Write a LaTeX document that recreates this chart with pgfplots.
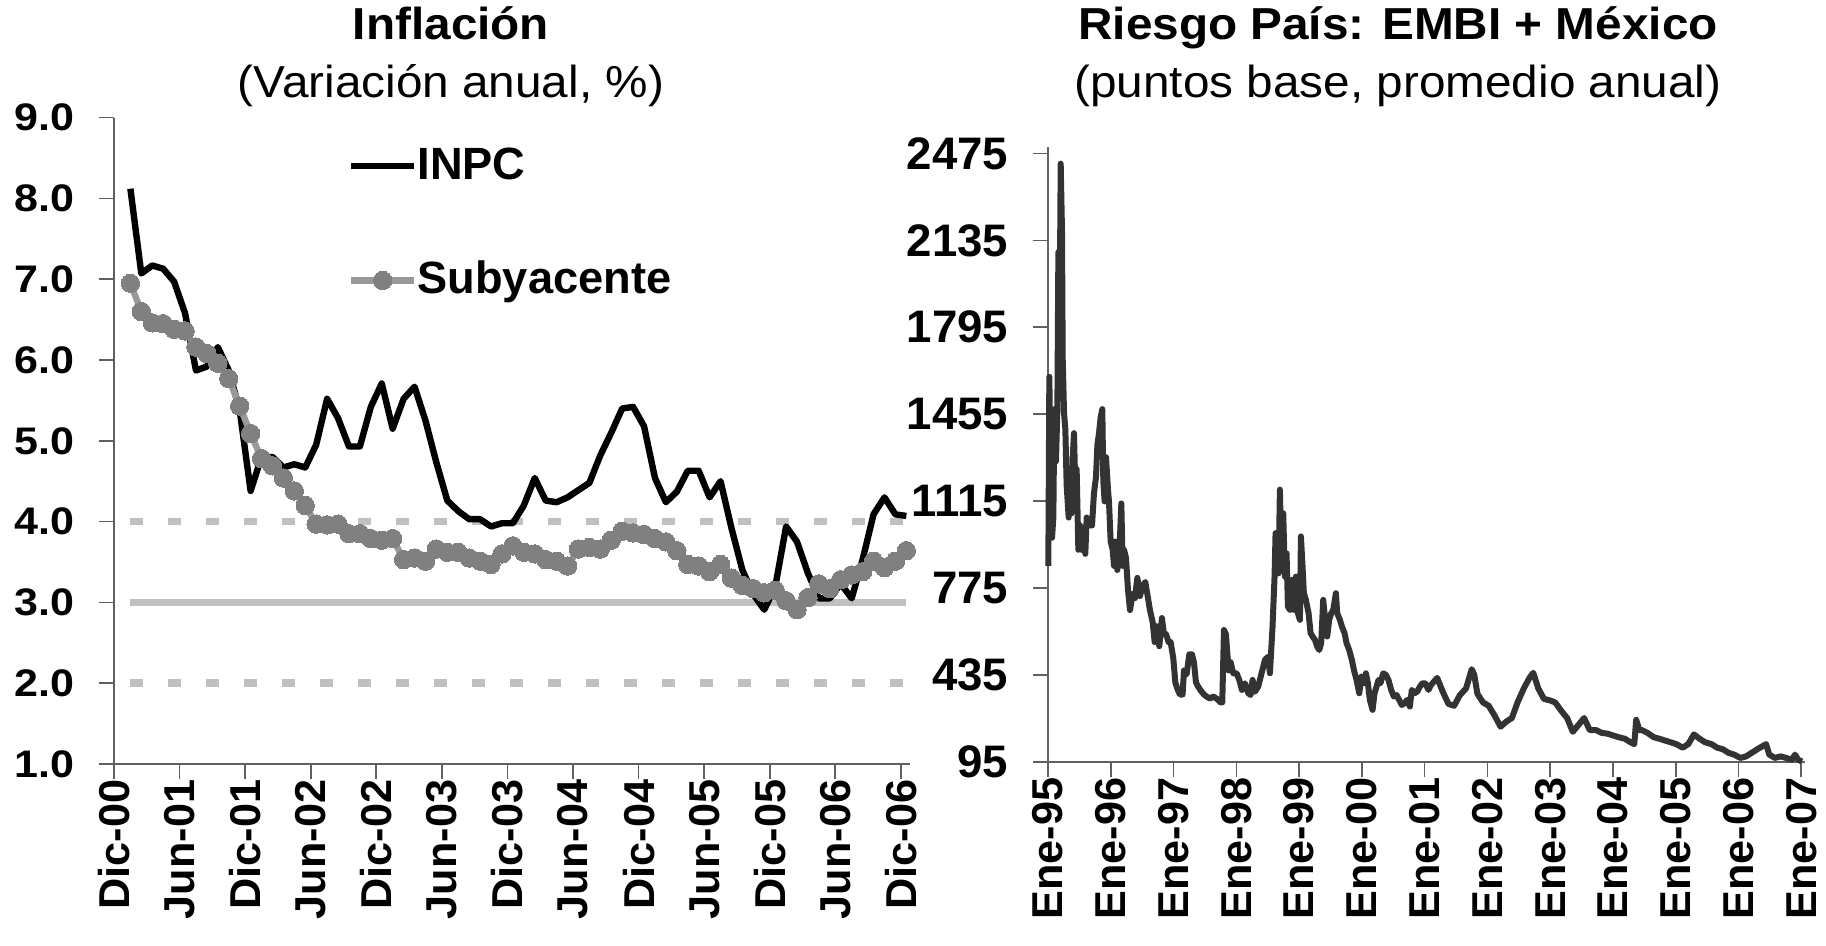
\documentclass[border=0pt]{standalone}
\usepackage{fontspec}
\setmainfont{Liberation Sans}
\newfontfamily\widesans{Liberation Sans}[FakeStretch=1.065]
\newfontfamily\widersans{Liberation Sans}[FakeStretch=1.12]
\usepackage{pgfplots}
\pgfplotsset{compat=1.18}

\definecolor{axisgray}{HTML}{606060}
\definecolor{refgray}{HTML}{C0C0C0}
\definecolor{coregray}{HTML}{999999}
\definecolor{markgray}{HTML}{808080}
\definecolor{embigray}{HTML}{333333}

\pgfplotsset{
  panel/.style={
    scale only axis, clip=false,
    axis x line*=bottom, axis y line*=left,
    axis line style={-, draw=axisgray, line width=0.4pt},
    tick align=outside, major tick length=3.75pt,
    tick style={draw=axisgray, line width=0.4pt},
    xticklabel style={rotate=90, anchor=east, inner sep=0pt,
      font=\fontsize{10.8}{11}\selectfont\bfseries},
  },
}

\begin{document}
\begin{tikzpicture}
\path[use as bounding box] (0,0) rectangle (456.5pt,236.25pt);

% titulos
\node[anchor=base, font=\fontsize{11.2}{12}\widesans\bfseries] at (112.75pt,226.25pt) {Inflación};
\node[anchor=base, font=\fontsize{11.2}{12}\widesans] at (112.75pt,211.75pt) {(Variación anual, \%)};
\node[anchor=base, font=\fontsize{11.2}{12}\widesans\bfseries] at (349.5pt,226.25pt) {Riesgo País: EMBI + México};
\node[anchor=base, font=\fontsize{11.2}{12}\widesans] at (349.5pt,211.75pt) {(puntos base, promedio anual)};

% panel izquierdo: inflacion
\begin{axis}[panel,
  width=198.9pt, height=161.6pt, at={(28.5pt,45.25pt)}, anchor=south west,
  xmin=0, xmax=72.8, ymin=1, ymax=9,
  xtick={0,6,...,72},
  xticklabels={Dic-00,Jun-01,Dic-01,Jun-02,Dic-02,Jun-03,Dic-03,Jun-04,Dic-04,Jun-05,Dic-05,Jun-06,Dic-06},
  ytick={1,2,3,4,5,6,7,8,9},
  yticklabels={1.0,2.0,3.0,4.0,5.0,6.0,7.0,8.0,9.0},
  yticklabel style={anchor=east, inner sep=0pt, xshift=-6pt,
    font=\fontsize{9.6}{10}\widersans\bfseries},
  legend cell align=left,
  legend image code/.code={\draw[#1,mark repeat=2,mark phase=2] plot coordinates {(0pt,0pt) (7.9pt,0pt) (15.8pt,0pt)};},
  legend style={draw=none, fill=none, at={(0.293,0.955)}, anchor=north west,
    inner sep=0pt, row sep=19pt, nodes={inner sep=0pt},
    /tikz/every even column/.append style={column sep=2.75pt},
    font=\fontsize{11.3}{12}\selectfont\bfseries},
]
% bandas de la meta
\addplot[forget plot, refgray, line width=1.9pt] coordinates {(1.5,3) (72.5,3)};
\addplot[forget plot, refgray, line width=1.9pt, dash pattern=on 3.2pt off 6.3pt] coordinates {(1.5,4) (72.5,4)};
\addplot[forget plot, refgray, line width=1.9pt, dash pattern=on 3.2pt off 6.3pt] coordinates {(1.5,2) (72.5,2)};

\addplot[black, line width=1.6pt, line join=round] coordinates {
(1.5,8.12) (2.5,7.07) (3.5,7.17) (4.5,7.13) (5.5,6.97) (6.5,6.58) (7.5,5.87) (8.5,5.92)
(9.5,6.16) (10.5,5.87) (11.5,5.38) (12.5,4.38) (13.5,4.80) (14.5,4.80) (15.5,4.67) (16.5,4.71)
(17.5,4.67) (18.5,4.95) (19.5,5.52) (20.5,5.28) (21.5,4.93) (22.5,4.93) (23.5,5.42) (24.5,5.71)
(25.5,5.15) (26.5,5.52) (27.5,5.67) (28.5,5.25) (29.5,4.73) (30.5,4.26) (31.5,4.13) (32.5,4.03)
(33.5,4.03) (34.5,3.94) (35.5,3.98) (36.5,3.98) (37.5,4.20) (38.5,4.54) (39.5,4.26) (40.5,4.24)
(41.5,4.30) (42.5,4.39) (43.5,4.48) (44.5,4.82) (45.5,5.10) (46.5,5.40) (47.5,5.42) (48.5,5.18)
(49.5,4.54) (50.5,4.24) (51.5,4.37) (52.5,4.63) (53.5,4.63) (54.5,4.30) (55.5,4.50) (56.5,3.92)
(57.5,3.40) (58.5,3.10) (59.5,2.91) (60.5,3.19) (61.5,3.94) (62.5,3.75) (63.5,3.36) (64.5,3.05)
(65.5,3.05) (66.5,3.23) (67.5,3.05) (68.5,3.53) (69.5,4.09) (70.5,4.30) (71.5,4.09) (72.5,4.07)
};
\addlegendentry{INPC}

\addplot[coregray, line width=1.6pt, line join=round, mark=*, mark size=2.3pt,
  mark options={fill=markgray, draw=markgray, line width=0pt}] coordinates {
(1.5,6.95) (2.5,6.60) (3.5,6.46) (4.5,6.45) (5.5,6.38) (6.5,6.36) (7.5,6.16) (8.5,6.08)
(9.5,5.96) (10.5,5.77) (11.5,5.43) (12.5,5.09) (13.5,4.78) (14.5,4.69) (15.5,4.54) (16.5,4.38)
(17.5,4.20) (18.5,3.97) (19.5,3.96) (20.5,3.97) (21.5,3.85) (22.5,3.85) (23.5,3.79) (24.5,3.77)
(25.5,3.79) (26.5,3.53) (27.5,3.55) (28.5,3.51) (29.5,3.66) (30.5,3.62) (31.5,3.62) (32.5,3.55)
(33.5,3.51) (34.5,3.47) (35.5,3.60) (36.5,3.70) (37.5,3.62) (38.5,3.60) (39.5,3.53) (40.5,3.51)
(41.5,3.45) (42.5,3.66) (43.5,3.68) (44.5,3.66) (45.5,3.77) (46.5,3.88) (47.5,3.86) (48.5,3.84)
(49.5,3.79) (50.5,3.75) (51.5,3.64) (52.5,3.47) (53.5,3.45) (54.5,3.38) (55.5,3.47) (56.5,3.30)
(57.5,3.21) (58.5,3.17) (59.5,3.12) (60.5,3.15) (61.5,3.02) (62.5,2.91) (63.5,3.06) (64.5,3.23)
(65.5,3.17) (66.5,3.28) (67.5,3.34) (68.5,3.38) (69.5,3.51) (70.5,3.43) (71.5,3.51) (72.5,3.64)
};
\addlegendentry{Subyacente}
\end{axis}

% panel derecho: EMBI+ Mexico
\begin{axis}[panel,
  width=189.25pt, height=153.75pt, at={(262pt,45.75pt)}, anchor=south west,
  xmin=0, xmax=12.06, ymin=95, ymax=2500,
  xtick={0,1,...,12},
  xticklabels={Ene-95,Ene-96,Ene-97,Ene-98,Ene-99,Ene-00,Ene-01,Ene-02,Ene-03,Ene-04,Ene-05,Ene-06,Ene-07},
  ytick={95,435,775,1115,1455,1795,2135,2475},
  yticklabels={95,435,775,1115,1455,1795,2135,2475},
  yticklabel style={anchor=east, inner sep=0pt, xshift=-6pt,
    font=\fontsize{11.4}{12}\selectfont\bfseries},
]
\addplot[embigray, line width=1.5pt, line join=round] coordinates {
(0.005,862) (0.021,1601) (0.042,1208) (0.064,972) (0.085,1051) (0.101,1475) (0.127,1271)
(0.149,1475) (0.165,2089) (0.180,1649) (0.202,2435) (0.223,2167) (0.234,1672) (0.255,1460)
(0.276,1397) (0.297,1177) (0.329,1051) (0.350,1224) (0.372,1067) (0.393,1287) (0.414,1381)
(0.435,1161) (0.456,1240) (0.483,925) (0.510,1020) (0.531,925) (0.563,988) (0.594,909)
(0.616,1051) (0.658,1020) (0.701,1020) (0.732,1146) (0.764,1208) (0.786,1334) (0.812,1381)
(0.839,1444) (0.865,1475) (0.881,1192) (0.902,1114) (0.924,1287) (0.955,1161) (0.971,1114)
(0.998,957) (1.030,925) (1.051,862) (1.072,957) (1.104,846) (1.136,909) (1.168,1106)
(1.189,862) (1.210,925) (1.242,894) (1.274,768) (1.306,689) (1.348,752) (1.385,736)
(1.423,815) (1.465,744) (1.507,783) (1.550,799) (1.582,752) (1.624,689) (1.667,642)
(1.699,564) (1.730,626) (1.773,548) (1.815,658) (1.847,595) (1.879,595) (1.921,564)
(1.953,564) (1.996,501) (2.028,406) (2.070,375) (2.102,359) (2.144,359) (2.166,453)
(2.208,438) (2.251,516) (2.293,516) (2.325,485) (2.357,406) (2.389,391) (2.431,375)
(2.484,359) (2.527,351) (2.580,343) (2.633,351) (2.686,343) (2.749,328) (2.776,328)
(2.803,611) (2.834,595) (2.877,453) (2.909,485) (2.951,442) (3.004,442) (3.047,416)
(3.089,377) (3.137,403) (3.190,364) (3.227,357) (3.259,416) (3.296,370) (3.349,390)
(3.402,442) (3.456,494) (3.508,507) (3.535,442) (3.577,625) (3.609,820) (3.625,990)
(3.652,990) (3.673,833) (3.694,1160) (3.721,859) (3.747,1068) (3.774,820) (3.800,911)
(3.822,703) (3.854,690) (3.885,807) (3.917,690) (3.949,820) (3.981,677) (4.013,651)
(4.029,977) (4.055,859) (4.076,755) (4.108,729) (4.151,677) (4.183,599) (4.214,586)
(4.252,573) (4.289,546) (4.321,533) (4.352,560) (4.384,729) (4.416,651) (4.448,586)
(4.480,651) (4.512,677) (4.544,690) (4.586,755) (4.607,677) (4.650,651) (4.682,625)
(4.724,599) (4.756,560) (4.798,533) (4.841,494) (4.873,455) (4.915,416) (4.958,364)
(4.995,429) (5.032,403) (5.064,442) (5.096,403) (5.127,338) (5.170,299) (5.202,364)
(5.234,390) (5.265,416) (5.297,403) (5.340,442) (5.382,436) (5.424,416) (5.467,377)
(5.510,351) (5.552,357) (5.594,338) (5.637,318) (5.679,325) (5.722,338) (5.764,312)
(5.796,377) (5.838,364) (5.881,370) (5.924,390) (5.966,403) (6.008,403) (6.061,377)
(6.10,396) (6.20,424) (6.29,369) (6.38,322) (6.47,315) (6.56,356) (6.66,383) (6.75,458)
(6.79,437) (6.84,362) (6.93,328) (7.02,315) (7.12,274) (7.21,233) (7.30,253) (7.39,267)
(7.48,328) (7.58,383) (7.67,424) (7.73,444) (7.81,383) (7.90,342) (8.01,335) (8.08,328)
(8.18,294) (8.27,267) (8.36,213) (8.45,240) (8.54,267) (8.63,220) (8.73,220) (8.82,209)
(8.91,206) (9.00,199) (9.09,192) (9.19,186) (9.28,172) (9.34,165) (9.37,260) (9.42,220)
(9.46,220) (9.55,209) (9.65,192) (9.74,186) (9.83,179) (9.92,172) (10.01,165) (10.11,151)
(10.20,165) (10.29,203) (10.38,186) (10.47,172) (10.57,165) (10.66,151) (10.75,145)
(10.84,131) (10.93,124) (11.03,111) (11.12,117) (11.21,131) (11.30,145) (11.39,158)
(11.44,165) (11.49,124) (11.58,111) (11.67,117) (11.76,111) (11.85,104) (11.90,124)
(11.95,104) (12.01,97)
};
\end{axis}
\end{tikzpicture}
\end{document}
